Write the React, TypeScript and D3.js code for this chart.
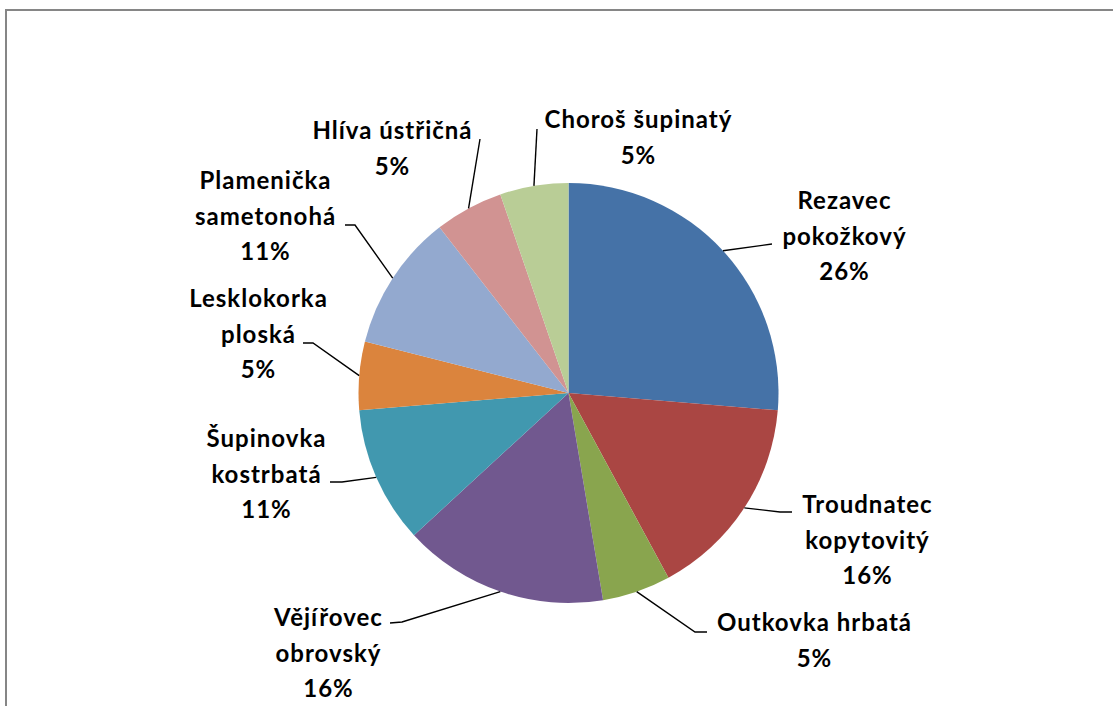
import React from "react";
import * as d3 from "d3";

const categories = [
  "Rezavec pokožkový",
  "Troudnatec kopytovitý",
  "Outkovka hrbatá",
  "Vějířovec obrovský",
  "Šupinovka kostrbatá",
  "Lesklokorka ploská",
  "Plamenička sametonohá",
  "Hlíva ústřičná",
  "Choroš šupinatý",
];
const counts = [5, 3, 1, 3, 2, 1, 2, 1, 1];
const colors = [
  "#4572A7",
  "#AA4643",
  "#89A54E",
  "#71588F",
  "#4198AF",
  "#DB843D",
  "#93A9CF",
  "#D19392",
  "#B9CD96",
];

// label layout: centre x, first baseline, whether name wraps, leader line anchor points (label side)
const labelLayout = [
  { cx: 844, y: 209, wrap: true, leader: [[772, 244]] },
  { cx: 867, y: 513, wrap: true, leader: [[792, 512], [780, 512]] },
  { cx: 814, y: 631, wrap: false, leader: [[707, 632], [695, 632]] },
  { cx: 328, y: 626, wrap: true, leader: [[390, 623], [402, 622]] },
  { cx: 266, y: 447, wrap: true, leader: [[330, 482], [342, 482]] },
  { cx: 258, y: 307, wrap: true, leader: [[303, 343], [313, 343]] },
  { cx: 265, y: 189, wrap: true, leader: [[345, 225], [355, 225]] },
  { cx: 392, y: 139, wrap: false, leader: [[480, 139]] },
  { cx: 638, y: 128, wrap: false, leader: [[537, 129]] },
];

const W = 1113;
const H = 706;
const CX = 568.5;
const CY = 393;
const R = 210;
const LINE = 35.5;

export default function App() {
  const total = d3.sum(counts);
  const pie = d3
    .pie<number>()
    .sort(null)
    .value((d) => d)(counts);
  const arc = d3.arc<d3.PieArcDatum<number>>().innerRadius(0).outerRadius(R);
  const edge = d3.arc<d3.PieArcDatum<number>>().innerRadius(R).outerRadius(R);
  const line = d3.line();

  return (
    <svg
      width={W}
      height={H}
      style={{ position: "absolute", left: 0, top: 0, background: "#fff" }}
      fontFamily="Lato, 'Open Sans', sans-serif"
    >
      <rect x={6} y={10} width={1200} height={800} fill="#fff" stroke="#868686" strokeWidth={2} />
      <g transform={`translate(${CX},${CY})`}>
        {pie.map((p, i) => (
          <path key={i} d={arc(p) || ""} fill={colors[i]} />
        ))}
      </g>
      {pie.map((p, i) => {
        const [mx, my] = edge.centroid(p);
        const L = labelLayout[i];
        const pts = [...L.leader, [CX + mx, CY + my]] as [number, number][];
        return <path key={i} d={line(pts) || ""} fill="none" stroke="#000" strokeWidth={1.4} />;
      })}
      {categories.map((c, i) => {
        const L = labelLayout[i];
        const pct = Math.round((counts[i] / total) * 100) + "%";
        const lines = L.wrap ? [...c.split(" "), pct] : [c, pct];
        return (
          <text
            key={i}
            x={L.cx}
            y={L.y}
            textAnchor="middle"
            fontWeight="bold"
            fontSize={24}
            letterSpacing={1}
            fill="#000"
          >
            {lines.map((t, j) => (
              <tspan key={j} x={L.cx + 0.5} y={L.y + j * LINE}>
                {t}
              </tspan>
            ))}
          </text>
        );
      })}
    </svg>
  );
}
